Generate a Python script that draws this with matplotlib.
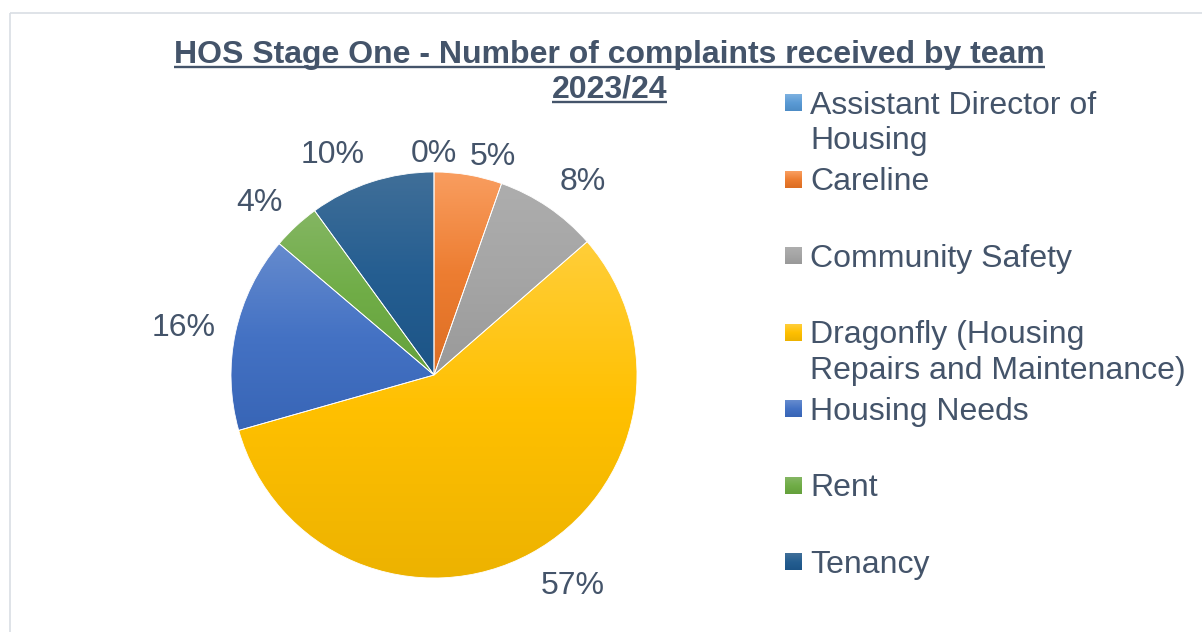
#!/usr/bin/env python3
"""HOS Stage One - complaints by team 2023/24, pie chart."""

import colorsys

import numpy as np
import matplotlib
matplotlib.use("Agg")
import matplotlib.pyplot as plt
from matplotlib.colors import to_rgb
from matplotlib.patches import Rectangle

plt.rcParams["font.family"] = ["Liberation Sans", "DejaVu Sans"]

teams = [
    "Assistant Director of\nHousing",
    "Careline",
    "Community Safety",
    "Dragonfly (Housing\nRepairs and Maintenance)",
    "Housing Needs",
    "Rent",
    "Tenancy",
]
# share of complaints, %
shares = [0.0, 5.4, 8.2, 57.0, 15.6, 3.8, 10.0]
colors = ["#5B9BD5", "#ED7D31", "#A5A5A5", "#FFC000", "#4472C4", "#70AD47", "#255E91"]
title_lines = ["HOS Stage One - Number of complaints received by team", "2023/24"]

TXT = "#44546A"
W, H = 1202, 632
CX, CY, R = 434, 375, 203  # pie centre / radius in pixels


def hsv_mod(rgb, ks, kv):
    h, s, v = colorsys.rgb_to_hsv(*rgb)
    return np.array(colorsys.hsv_to_rgb(h, min(1, s * ks), min(1, v * kv)))


def grad(base, n=64):
    # Excel-like: lighter/desaturated top, base in the middle, deeper bottom
    c = np.array(to_rgb(base))
    top = hsv_mod(c, 0.78, 1.05)
    bot = hsv_mod(c, 1.06, 0.93)
    t = np.linspace(0, 1, n)
    out = np.empty((n, 3))
    for k in range(3):
        out[:, k] = np.interp(t, [0, 0.5, 1], [top[k], c[k], bot[k]])
    return out[:, None, :]


fig = plt.figure(figsize=(W / 100, H / 100), dpi=100)

# pie axes: square pixel box around the pie
ax = fig.add_axes([(CX - R) / W, (H - CY - R) / H, 2 * R / W, 2 * R / H])
wedges, _ = ax.pie(shares, startangle=90, counterclock=False, radius=1, colors=colors)

for w, base in zip(wedges, colors):
    if abs(w.theta2 - w.theta1) < 1e-6:
        w.set_visible(False)
        continue
    x0, y0, x1, y1 = w.get_path().get_extents().extents
    im = ax.imshow(grad(base), extent=(x0, x1, y0, y1), origin="upper",
                   aspect="auto", interpolation="bilinear", zorder=2)
    im.set_clip_path(w)
    w.set_facecolor("none")
    w.set_edgecolor("white")
    w.set_linewidth(0.6)
    w.set_zorder(3)

# percentage labels, outside end like Excel
total = sum(shares)
for w, v in zip(wedges, shares):
    mid = np.deg2rad((w.theta1 + w.theta2) / 2)
    c, s = np.cos(mid), np.sin(mid)
    ha = "center" if abs(c) < 0.1 else ("left" if c > 0 else "right")
    va = "center" if abs(s) < 0.3 else ("baseline" if s > 0 else "top")
    d = 1.05 if abs(c) < 0.2 else 1.10
    ax.text(d * c, d * s, f"{100 * v / total:.0f}%", ha=ha, va=va,
            fontsize=23, color=TXT, zorder=5)

ax.set_xlim(-1, 1)
ax.set_ylim(-1, 1)
ax.set_axis_off()

# overlay in pixel coordinates for title, legend and frame
ov = fig.add_axes([0, 0, 1, 1])
ov.set_xlim(0, W)
ov.set_ylim(H, 0)
ov.set_axis_off()
ov.patch.set_visible(False)

ov.add_patch(Rectangle((10, 13), 1400, 800, fill=False, edgecolor="#D9DEE4", lw=1.2))

renderer = fig.canvas.get_renderer()
for i, line in enumerate(title_lines):
    yb = 63 + 35 * i
    t = ov.text(609.5, yb, line, ha="center", va="baseline", fontsize=23,
                fontweight="bold", color=TXT)
    bb = t.get_window_extent(renderer)
    ov.plot([bb.x0, bb.x1], [yb + 4, yb + 4], color=TXT, lw=1.7,
            solid_capstyle="butt")

# legend
for i, (name, base) in enumerate(zip(teams, colors)):
    mc = 103 + 76.5 * i
    ov.imshow(grad(base, 16), extent=(785, 802, mc + 8.5, mc - 8.5), origin="upper",
              aspect="auto", interpolation="bilinear")
    for j, part in enumerate(name.split("\n")):
        ov.text(810, mc + 11 + 35 * j, part, ha="left", va="baseline",
                fontsize=23, color=TXT)

ov.set_xlim(0, W)
ov.set_ylim(H, 0)

fig.savefig("out.png", dpi=100)
